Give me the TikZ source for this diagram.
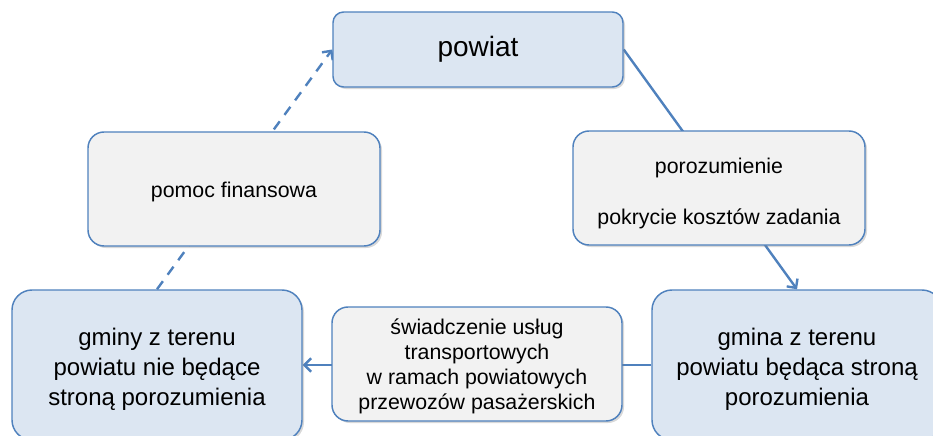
\documentclass[tikz,border=0pt]{standalone}
\usepackage{fontspec}
\setmainfont{Liberation Sans}
\usetikzlibrary{arrows.meta,backgrounds,shadows}
\definecolor{ramka}{RGB}{79,129,189}
\definecolor{niebieski}{RGB}{220,230,242}
\definecolor{szary}{RGB}{242,242,242}
\newcommand{\odstep}[1]{\rule{0pt}{#1}}
\tikzset{
  pudlo/.style={draw=ramka, line width=1.1pt, align=center, inner sep=0pt,
    drop shadow={opacity=0.3, shadow xshift=1.5pt, shadow yshift=-1.5pt}},
  duze/.style={pudlo, fill=niebieski, minimum width=217.5pt, minimum height=112.5pt,
    rounded corners=15pt, font=\fontsize{18}{22.5}\selectfont},
  male/.style={pudlo, fill=szary, minimum width=219pt, minimum height=85.5pt,
    rounded corners=12pt, font=\fontsize{16}{19}\selectfont},
  strzalka/.style={draw=ramka, line width=1.8pt, -{Straight Barb[length=5pt,width=10pt]}}
}
\begin{document}
\begin{tikzpicture}[x=0.75pt,y=-0.75pt]
    \useasboundingbox (0,0) rectangle (933,436);
    \clip (0,0) rectangle (933,436);

    % Gora
    \node[pudlo, fill=niebieski, minimum width=217.5pt, minimum height=56.25pt,
      rounded corners=8pt, font=\fontsize{21}{25}\selectfont] (powiat) at (478,49.5) {powiat};

    % Srodek
    \node[male] (pomoc) at (234,189) {\odstep{16pt}pomoc finansowa};
    \node[male] (porozumienie) at (719,188) {\odstep{19.5pt}porozumienie\\[19pt]pokrycie kosztów zadania};

    % Dol
    \node[duze] (gminy) at (157,365) {\odstep{19pt}gminy z terenu\\powiatu nie będące\\stroną porozumienia};
    \node[male, minimum width=217.5pt, font=\fontsize{16}{18.75}\selectfont] (uslugi) at (477,364)
      {\odstep{15pt}świadczenie usług\\transportowych\\w ramach powiatowych\\przewozów pasażerskich};
    \node[duze] (gmina) at (797,365) {\odstep{19pt}gmina z terenu\\powiatu będąca stroną\\porozumienia};

    % Strzalki
    \begin{scope}[on background layer]
      \draw[strzalka] (powiat.east) -- (gmina.north);
      \draw[strzalka, dash pattern=on 7.5pt off 6pt] (gminy.north) -- (powiat.west);
      \draw[strzalka] (gmina.west) -- (gminy.east);
    \end{scope}
\end{tikzpicture}
\end{document}
